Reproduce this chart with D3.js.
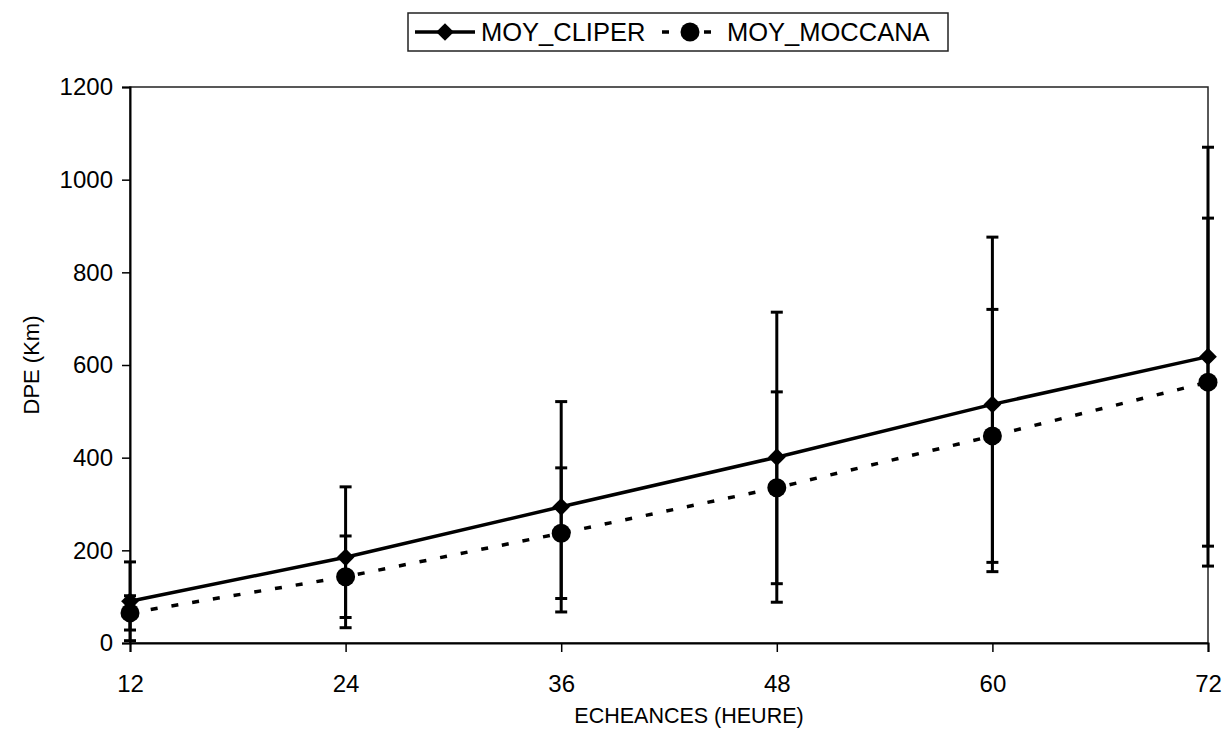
<!DOCTYPE html>
<html>
<head>
<meta charset="utf-8">
<script src="https://cdn.jsdelivr.net/npm/d3@7"></script>
<style>
  html, body { margin: 0; padding: 0; background: #fff; }
  svg { display: block; }
  text { font-family: "Liberation Sans", Arial, sans-serif; fill: #000; }
</style>
</head>
<body>
<svg id="chart" width="1222" height="742"></svg>
<script>
// ---- data ----
const hours = [12, 24, 36, 48, 60, 72];
const cliperMean = [90, 185, 294, 401, 515, 618];
const cliperStd = [85, 152, 227, 313, 361, 452];
const moccanaMean = [65, 143, 237, 335, 447, 563];
const moccanaStd = [37, 88, 141, 207, 273, 354];
const yTicks = [0, 200, 400, 600, 800, 1000, 1200];
const seriesNames = ["MOY_CLIPER", "MOY_MOCCANA"];
const xTitle = "ECHEANCES (HEURE)";
const yTitle = "DPE (Km)";

// ---- layout ----
const W = 1222, H = 742;
const m = { left: 130, right: 14, top: 87, bottom: 99 };
const svg = d3.select("#chart");

const x = d3.scaleLinear().domain([12, 72]).range([m.left, W - m.right]);
const y = d3.scaleLinear().domain([0, 1200]).range([H - m.bottom, m.top]);

// plot border (top & right)
svg.append("rect")
  .attr("x", m.left).attr("y", m.top)
  .attr("width", W - m.right - m.left).attr("height", H - m.bottom - m.top)
  .attr("fill", "none").attr("stroke", "#222").attr("stroke-width", 1.5);

// axes
const yAxis = svg.append("g")
  .attr("transform", `translate(${m.left},0)`)
  .call(d3.axisLeft(y).tickValues(yTicks).tickSize(8).tickPadding(9).tickFormat(d3.format("d")));
const xAxis = svg.append("g")
  .attr("transform", `translate(0,${H - m.bottom})`)
  .call(d3.axisBottom(x).tickValues(hours).tickSize(9).tickPadding(23).tickFormat(d3.format("d")));
[yAxis, xAxis].forEach(a => {
  a.selectAll("path.domain").attr("stroke", "#000").attr("stroke-width", 2);
  a.selectAll(".tick line").attr("stroke", "#000").attr("stroke-width", 1.5);
  a.selectAll(".tick text").attr("font-size", 24).attr("font-family", "Liberation Sans, Arial, sans-serif").attr("fill", "#000");
});

// axis titles
svg.append("text")
  .attr("x", 689).attr("y", 723)
  .attr("text-anchor", "middle").attr("font-size", 21.5).text(xTitle);
svg.append("text")
  .attr("transform", `translate(39,${(m.top + H - m.bottom) / 2}) rotate(-90)`)
  .attr("text-anchor", "middle").attr("font-size", 22).text(yTitle);

const cliper = hours.map((h, i) => ({ h, v: cliperMean[i], s: cliperStd[i] }));
const moccana = hours.map((h, i) => ({ h, v: moccanaMean[i], s: moccanaStd[i] }));

// error bars
function errorBars(data) {
  const g = svg.append("g");
  data.forEach(d => {
    const lo = Math.max(0, d.v - d.s), hi = d.v + d.s;
    g.append("line").attr("x1", x(d.h)).attr("x2", x(d.h))
      .attr("y1", y(lo)).attr("y2", y(hi))
      .attr("stroke", "#000").attr("stroke-width", 3);
    [lo, hi].forEach(v => {
      g.append("line").attr("x1", x(d.h) - 6).attr("x2", x(d.h) + 6)
        .attr("y1", y(v)).attr("y2", y(v))
        .attr("stroke", "#000").attr("stroke-width", 3);
    });
  });
}
errorBars(cliper);
errorBars(moccana);

const line = d3.line().x(d => x(d.h)).y(d => y(d.v));
svg.append("path").datum(cliper).attr("d", line)
  .attr("fill", "none").attr("stroke", "#000").attr("stroke-width", 3.5);
svg.append("path").datum(moccana).attr("d", line)
  .attr("fill", "none").attr("stroke", "#000").attr("stroke-width", 3.5)
  .attr("stroke-dasharray", "7,14");

const diamond = d3.symbol().type(d3.symbolDiamond2).size(200);
svg.append("g").selectAll("path").data(cliper).join("path")
  .attr("transform", d => `translate(${x(d.h)},${y(d.v)})`)
  .attr("d", diamond).attr("fill", "#000");
svg.append("g").selectAll("circle").data(moccana).join("circle")
  .attr("cx", d => x(d.h)).attr("cy", d => y(d.v)).attr("r", 9.5).attr("fill", "#000");

// legend
const lg = svg.append("g");
lg.append("rect").attr("x", 408).attr("y", 13).attr("width", 540).attr("height", 38)
  .attr("fill", "#fff").attr("stroke", "#222").attr("stroke-width", 1.5);
lg.append("line").attr("x1", 415).attr("x2", 475).attr("y1", 32).attr("y2", 32)
  .attr("stroke", "#000").attr("stroke-width", 3.5);
lg.append("path").attr("transform", "translate(445,32)").attr("d", diamond).attr("fill", "#000");
lg.append("text").attr("x", 481).attr("y", 41).attr("font-size", 25.5).text(seriesNames[0]);
lg.append("line").attr("x1", 658).attr("x2", 722).attr("y1", 32).attr("y2", 32)
  .attr("stroke", "#000").attr("stroke-width", 3.5).attr("stroke-dasharray", "7,14").attr("stroke-dashoffset", -4);
lg.append("circle").attr("cx", 690).attr("cy", 32).attr("r", 9.5).attr("fill", "#000");
lg.append("text").attr("x", 727).attr("y", 41).attr("font-size", 25.5).text(seriesNames[1]);
</script>
</body>
</html>
